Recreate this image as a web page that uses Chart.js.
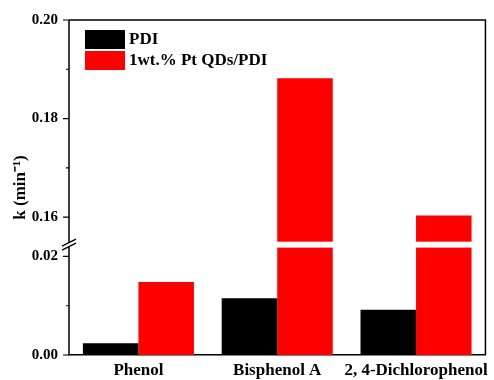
<!DOCTYPE html>
<html>
<head>
<meta charset="utf-8">
<script src="https://cdn.jsdelivr.net/npm/chart.js@4"></script>
<style>
  html, body { margin: 0; padding: 0; background: #fff; }
  #wrap { width: 494px; height: 380px; }
</style>
</head>
<body>
<div id="wrap"><canvas id="kChart"></canvas></div>
<script>
const categories = ['Phenol', 'Bisphenol A', '2, 4-Dichlorophenol']
const seriesNames = ['PDI', '1wt.% Pt QDs/PDI']
const pdiValues = [0.0024, 0.0115, 0.0092]
const ptPdiValues = [0.0148, 0.1882, 0.1603]

const yTickValues = [0.00, 0.02, 0.16, 0.18, 0.20]
const yTickLabels = ['0.00', '0.02', '0.16', '0.18', '0.20']
const yMinorValues = [0.01, 0.17, 0.19]

// broken axis: everything above the break is shifted down by SHIFT
const BREAK_LOW = 0.0218
const BREAK_TOP = 0.0230
const SHIFT = 0.132
const toAxis = v => v > 0.1 ? v - SHIFT : v

const FONT = '"Liberation Serif", "Times New Roman", serif'

const brokenAxis = {
    id: 'brokenAxis',
    afterDatasetsDraw(chart) {
        const ctx = chart.ctx
        const y = chart.scales.y
        const a = chart.chartArea
        const yLo = y.getPixelForValue(BREAK_LOW)
        const yHi = y.getPixelForValue(BREAK_TOP)

        ctx.save()
        // white gap through the tall bars
        ctx.fillStyle = '#fff'
        ctx.fillRect(a.left + 1, yHi, a.right - a.left - 2, yLo - yHi)

        // frame: top and right
        ctx.strokeStyle = '#000'
        ctx.lineWidth = 1.5
        ctx.beginPath()
        ctx.moveTo(a.left, a.top)
        ctx.lineTo(a.right, a.top)
        ctx.lineTo(a.right, a.bottom)
        ctx.stroke()

        // left axis line with a gap
        const mid = (yHi + yLo) / 2
        ctx.beginPath()
        ctx.moveTo(a.left, a.top)
        ctx.lineTo(a.left, mid - 2)
        ctx.moveTo(a.left, mid + 2)
        ctx.lineTo(a.left, a.bottom)
        ctx.stroke()

        // tick marks
        ctx.lineWidth = 1.2
        ctx.beginPath()
        yTickValues.forEach(v => {
            const p = y.getPixelForValue(toAxis(v))
            ctx.moveTo(a.left - 6, p)
            ctx.lineTo(a.left, p)
        })
        yMinorValues.forEach(v => {
            const p = y.getPixelForValue(toAxis(v))
            ctx.moveTo(a.left - 3, p)
            ctx.lineTo(a.left, p)
        })
        ctx.stroke()

        // break marks //
        ctx.lineWidth = 1.3
        ctx.beginPath()
        ;[mid - 2, mid + 2].forEach(p => {
            ctx.moveTo(a.left - 7, p + 3.5)
            ctx.lineTo(a.left + 7, p - 3.5)
        })
        ctx.stroke()

        // legend
        const colors = ['#000000', '#ff0000']
        ctx.font = 'bold 17px ' + FONT
        ctx.textBaseline = 'middle'
        ctx.textAlign = 'left'
        seriesNames.forEach((name, i) => {
            const top = 30 + i * 21
            ctx.fillStyle = colors[i]
            ctx.fillRect(85, top, 40, 19)
            ctx.fillStyle = '#000'
            ctx.fillText(name, 129, top + 10)
        })
        ctx.restore()
    }
}

new Chart(document.getElementById('kChart').getContext('2d'), {
    type: 'bar',
    data: {
        labels: categories,
        datasets: [
            {
                label: seriesNames[0],
                data: pdiValues.map(toAxis),
                backgroundColor: '#000000',
                borderWidth: 0
            },
            {
                label: seriesNames[1],
                data: ptPdiValues.map(toAxis),
                backgroundColor: '#ff0000',
                borderWidth: 0
            }
        ]
    },
    options: {
        responsive: true,
        maintainAspectRatio: false,
        animation: false,
        devicePixelRatio: 1,
        layout: { padding: { top: 18, right: 8, left: 0, bottom: 0 } },
        datasets: { bar: { categoryPercentage: 0.8, barPercentage: 1.0 } },
        plugins: {
            legend: { display: false },
            tooltip: { enabled: false }
        },
        scales: {
            x: {
                grid: { display: false, drawTicks: false },
                border: { display: true, color: '#000', width: 1.5 },
                ticks: {
                    color: '#000',
                    padding: 5,
                    maxRotation: 0,
                    autoSkip: false,
                    font: { family: FONT, size: 17, weight: 'bold' }
                },
                afterFit(scale) { scale.height = 25 }
            },
            y: {
                min: 0,
                max: toAxis(0.20),
                grid: { display: false, drawTicks: false },
                border: { display: false },
                afterBuildTicks(scale) {
                    scale.ticks = yTickValues.map(v => ({ value: toAxis(v) }))
                },
                ticks: {
                    color: '#000',
                    padding: 11,
                    font: { family: FONT, size: 15, weight: 'bold' },
                    callback(value, index) { return yTickLabels[index] }
                },
                title: {
                    display: true,
                    text: 'k (min\u207B\u00B9)',
                    color: '#000',
                    padding: { top: 10, bottom: 0 },
                    font: { family: FONT, size: 17, weight: 'bold' }
                },
                afterFit(scale) { scale.width = 69 }
            }
        }
    },
    plugins: [brokenAxis]
})
</script>
</body>
</html>
